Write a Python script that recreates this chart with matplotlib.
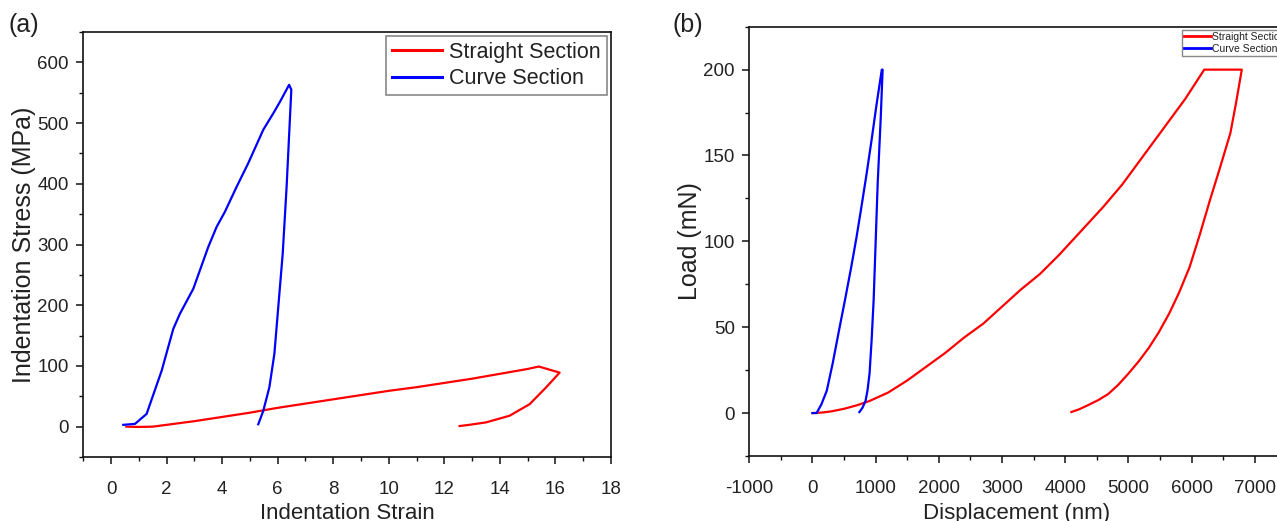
import matplotlib
matplotlib.use("Agg")
import matplotlib.pyplot as plt
from matplotlib.ticker import MultipleLocator

plt.rcParams['font.family'] = ['Liberation Sans', 'DejaVu Sans']
plt.rcParams['axes.unicode_minus'] = False

# ---------------- Panel (a) data: indentation stress-strain ----------------
a_straight_strain = [0.55, 1.0, 1.5, 2.0, 3.0, 4.0, 5.0, 6.0, 7.0, 8.0, 9.0, 10.0,
                     11.0, 12.0, 13.0, 14.0, 15.0, 15.4, 16.15,
                     15.67, 15.07, 14.35, 13.5, 12.9, 12.55]
a_straight_stress = [0, -0.5, 0, 3, 9, 16, 23, 31, 38, 45, 52, 59,
                     65, 72, 79, 87, 95, 99, 89,
                     65, 37, 18, 7, 3, 1]

a_curve_strain = [0.44, 0.86, 1.28, 1.82, 2.24, 2.48, 2.96, 3.5, 3.8, 4.1, 4.52,
                  4.94, 5.48, 5.84, 6.08, 6.41, 6.49,
                  6.32, 6.18, 5.98, 5.88, 5.70, 5.48, 5.30]
a_curve_stress = [3, 4.5, 21, 92, 161, 186, 227, 296, 329, 354, 395,
                  434, 489, 516, 535, 563, 555,
                  395, 285, 175, 120, 65, 26, 4]

# ---------------- Panel (b) data: load-displacement ----------------
b_straight_disp = [0, 150, 300, 500, 700, 900, 1200, 1500, 1800, 2100, 2400, 2700,
                   3000, 3300, 3600, 3900, 4100, 4400, 4600, 4900, 5100, 5400,
                   5600, 5900, 6200, 6300, 6794,
                   6700, 6613, 6450, 6290, 6130, 5968, 5800, 5645, 5480, 5323,
                   5160, 5000, 4840, 4677, 4520, 4355, 4220, 4097]
b_straight_load = [0, 0.3, 1, 2.5, 4.5, 7, 12, 19, 27, 35, 44, 52,
                   62, 72, 81, 92, 100, 112, 120, 133, 143, 158,
                   168, 183, 200, 200, 200,
                   180, 163, 143, 124, 104, 85, 70, 58, 47, 38,
                   30, 23, 16.5, 11, 7.5, 4.5, 2.2, 0.6]

b_curve_disp = [0, 65, 140, 226, 320, 419, 515, 613, 695, 774, 855, 935, 1015, 1097, 1110,
                1080, 1055, 1032, 1000, 968, 935, 903, 870, 839, 790, 742]
b_curve_load = [0, 0, 5, 13, 29, 48, 66, 85, 102, 120, 139, 159, 180, 200, 200,
                172, 152, 134, 100, 66, 42, 23, 13, 7, 3, 0.6]

series_labels = ["Straight Section", "Curve Section"]
series_colors = ["#ff0000", "#0000ff"]

a_xticks = [0, 2, 4, 6, 8, 10, 12, 14, 16, 18]
a_yticks = [0, 100, 200, 300, 400, 500, 600]
b_xticks = [-1000, 0, 1000, 2000, 3000, 4000, 5000, 6000, 7000]
b_yticks = [0, 50, 100, 150, 200]

W, H = 1277, 521
fig = plt.figure(figsize=(W / 100, H / 100), dpi=100)

text_color = "#222222"


def style_axes(ax):
    for s in ax.spines.values():
        s.set_linewidth(1.2)
        s.set_color("#111111")
    ax.tick_params(which="major", direction="out", length=5, width=1.1,
                   labelsize=13.5, colors="#111111", labelcolor=text_color)
    ax.tick_params(which="minor", direction="out", length=3, width=1.0,
                   colors="#111111")
    ax.tick_params(axis="x", which="major", pad=12.5)
    ax.tick_params(axis="y", which="major", pad=5.5)


def frac(l, t, r, b):
    return [l / W, 1 - b / H, (r - l) / W, (b - t) / H]


# ---- Panel (a) ----
axa = fig.add_axes(frac(83.3, 32, 611, 457))
axa.plot(a_straight_strain, a_straight_stress, color=series_colors[0], lw=1.6,
         label=series_labels[0])
axa.plot(a_curve_strain, a_curve_stress, color=series_colors[1], lw=1.6,
         label=series_labels[1])
axa.set_xlim(-1, 18)
axa.set_ylim(-50, 650)
axa.set_xticks(a_xticks)
axa.set_yticks(a_yticks)
axa.xaxis.set_minor_locator(MultipleLocator(1))
axa.yaxis.set_minor_locator(MultipleLocator(50))
style_axes(axa)
axa.set_xlabel("Indentation Strain", fontsize=16, color=text_color)
axa.set_ylabel("Indentation Stress (MPa)", fontsize=18, color=text_color)
axa.xaxis.set_label_coords(0.5, (457 - 503) / 425)
axa.yaxis.set_label_coords((36 - 83.3) / 527.7, 0.5)
lga = axa.legend(loc="upper right", bbox_to_anchor=(607 / W, 1 - 36 / H),
                 bbox_transform=fig.transFigure, fontsize=15.5, frameon=True,
                 fancybox=False, edgecolor="#888888", framealpha=1,
                 handlelength=2.3, handletextpad=0.35, labelspacing=0.25,
                 borderpad=0.28, borderaxespad=0)
lga.get_frame().set_linewidth(1.2)
for t in lga.get_texts():
    t.set_color(text_color)
for h in lga.legend_handles:
    h.set_linewidth(2.2)

fig.text(8 / W, 1 - 25 / H, "(a)", fontsize=18, color=text_color, va="center", ha="left")

# ---- Panel (b) ----
axb = fig.add_axes(frac(749.3, 26.7, 1318, 456))
axb.plot(b_straight_disp, b_straight_load, color=series_colors[0], lw=1.6,
         label=series_labels[0])
axb.plot(b_curve_disp, b_curve_load, color=series_colors[1], lw=1.6,
         label=series_labels[1])
axb.set_xlim(-1000, 8000)
axb.set_ylim(-25, 225)
axb.set_xticks(b_xticks)
axb.set_yticks(b_yticks)
axb.xaxis.set_minor_locator(MultipleLocator(500))
axb.yaxis.set_minor_locator(MultipleLocator(25))
style_axes(axb)
axb.set_xlabel("Displacement (nm)", fontsize=16, color=text_color)
axb.set_ylabel("Load (mN)", fontsize=18, color=text_color)
axb.xaxis.set_label_coords((1017 - 749.3) / (1318 - 749.3), (456 - 503) / 429.3)
axb.yaxis.set_label_coords((702 - 749.3) / (1318 - 749.3), 0.5)
lgb = axb.legend(loc="upper left", bbox_to_anchor=(1182 / W, 1 - 30 / H),
                 bbox_transform=fig.transFigure, fontsize=7.5, frameon=True,
                 fancybox=False, edgecolor="#888888", framealpha=1,
                 handlelength=2.6, handletextpad=0.1, labelspacing=0.15,
                 borderpad=0.2, borderaxespad=0)
lgb.get_frame().set_linewidth(1.0)
for t in lgb.get_texts():
    t.set_color(text_color)
for h in lgb.legend_handles:
    h.set_linewidth(2.0)

fig.text(672 / W, 1 - 25 / H, "(b)", fontsize=18, color=text_color, va="center", ha="left")

fig.savefig("out.png", dpi=100)
